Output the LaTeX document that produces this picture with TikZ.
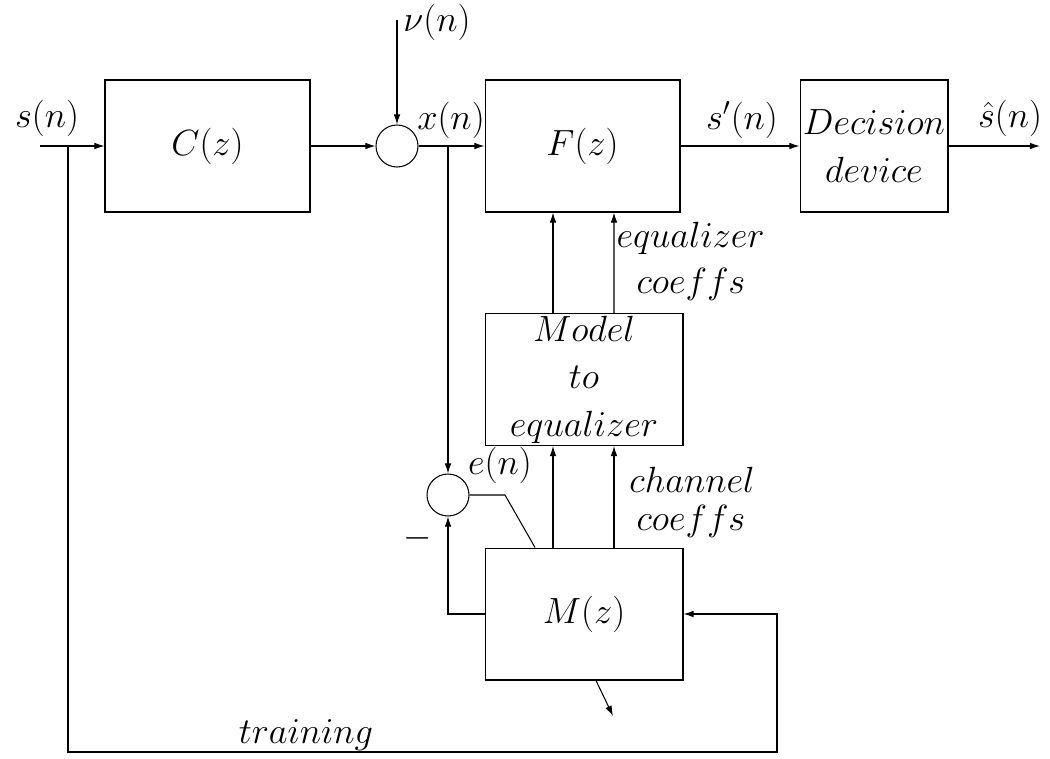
\documentclass[tikz,border=0pt]{standalone}
\usetikzlibrary{arrows.meta,calc}
\begin{document}
\begin{tikzpicture}[x=0.02cm,y=-0.02cm,
  line width=0.6pt,
  >={Latex[length=5.8pt,width=3.8pt]},
  every node/.style={font=\fontsize{22}{27}\selectfont},
  blk/.style={draw,rectangle,minimum height=2.64cm,inner sep=0pt},
  sumc/.style={draw,circle,minimum size=0.84cm,inner sep=0pt},
  lbl/.style={inner sep=0pt}]
\useasboundingbox (0,0) rectangle (1050,758);
% blocks
\node[blk,minimum width=4.1cm] (C) at (207.5,146) {$C(z)$};
\node[blk,minimum width=3.9cm] (F) at (582.5,146) {$F(z)$};
\node[blk,minimum width=2.96cm,align=center] (D) at (874,146) {$Decision$\\$device$};
\node[blk,minimum width=3.96cm,align=center] (Mod) at (584,379.5) {$Model$\\$to$\\$equalizer$};
\node[blk,minimum width=3.96cm] (M) at (584,614) {$M(z)$};
\node[sumc] (s1) at (397,146) {};
\node[sumc] (e) at (448,495) {};
% coordinates
\coordinate (sin) at (40,146);
\coordinate (br1) at (68,146);
\coordinate (trR) at (777,752);
\coordinate (nuT) at (397,20);
\coordinate (br2) at (448,146);
\coordinate (out) at (1040,146);
\coordinate (ek) at (505,495);
\coordinate (mo) at (613,716);
% connectors
\draw[->] (sin) -- (C.west);
\draw[->] (br1) |- (trR) |- (M.east);
\draw[->] (C.east) -- (s1.west);
\draw[->] (nuT) -- (s1.north);
\draw[->] (s1.east) -- (F.west);
\draw[->] (br2) -- (e.north);
\draw[->] (F.east) -- (D.west);
\draw[->] (D.east) -- (out);
\draw[->] ($(Mod.north)+(-31,0)$) -- ($(F.south)+(-29.5,0)$);
\draw[->] ($(Mod.north)+(30,0)$) -- ($(F.south)+(31.5,0)$);
\draw[->] ($(M.north)+(-31,0)$) -- ($(Mod.south)+(-31,0)$);
\draw[->] ($(M.north)+(30,0)$) -- ($(Mod.south)+(30,0)$);
\draw[->] (M.west) -| (e.south);
\draw (e.east) -- (ek) -- ($(M.north)+(-49,0)$);
\draw[->] ($(M.south)+(12,0)$) -- (mo);
% labels
\node[lbl] at (47,118) {$s(n)$};
\node[lbl] at (437,22) {$\nu(n)$};
\node[lbl] at (451,120) {$x(n)$};
\node[lbl] at (742,120) {$s'(n)$};
\node[lbl] at (1010,118) {$\hat{s}(n)$};
\node[lbl,anchor=base west] at (616,247) {$equalizer$};
\node[lbl,anchor=base] at (691,293) {$coeffs$};
\node[lbl,anchor=base] at (692,492) {$channel$};
\node[lbl,anchor=base] at (691,530) {$coeffs$};
\node[lbl] at (500,465) {$e(n)$};
\node[lbl] at (418,538) {$-$};
\node[lbl,anchor=base] at (306,743) {$training$};
\end{tikzpicture}
\end{document}
